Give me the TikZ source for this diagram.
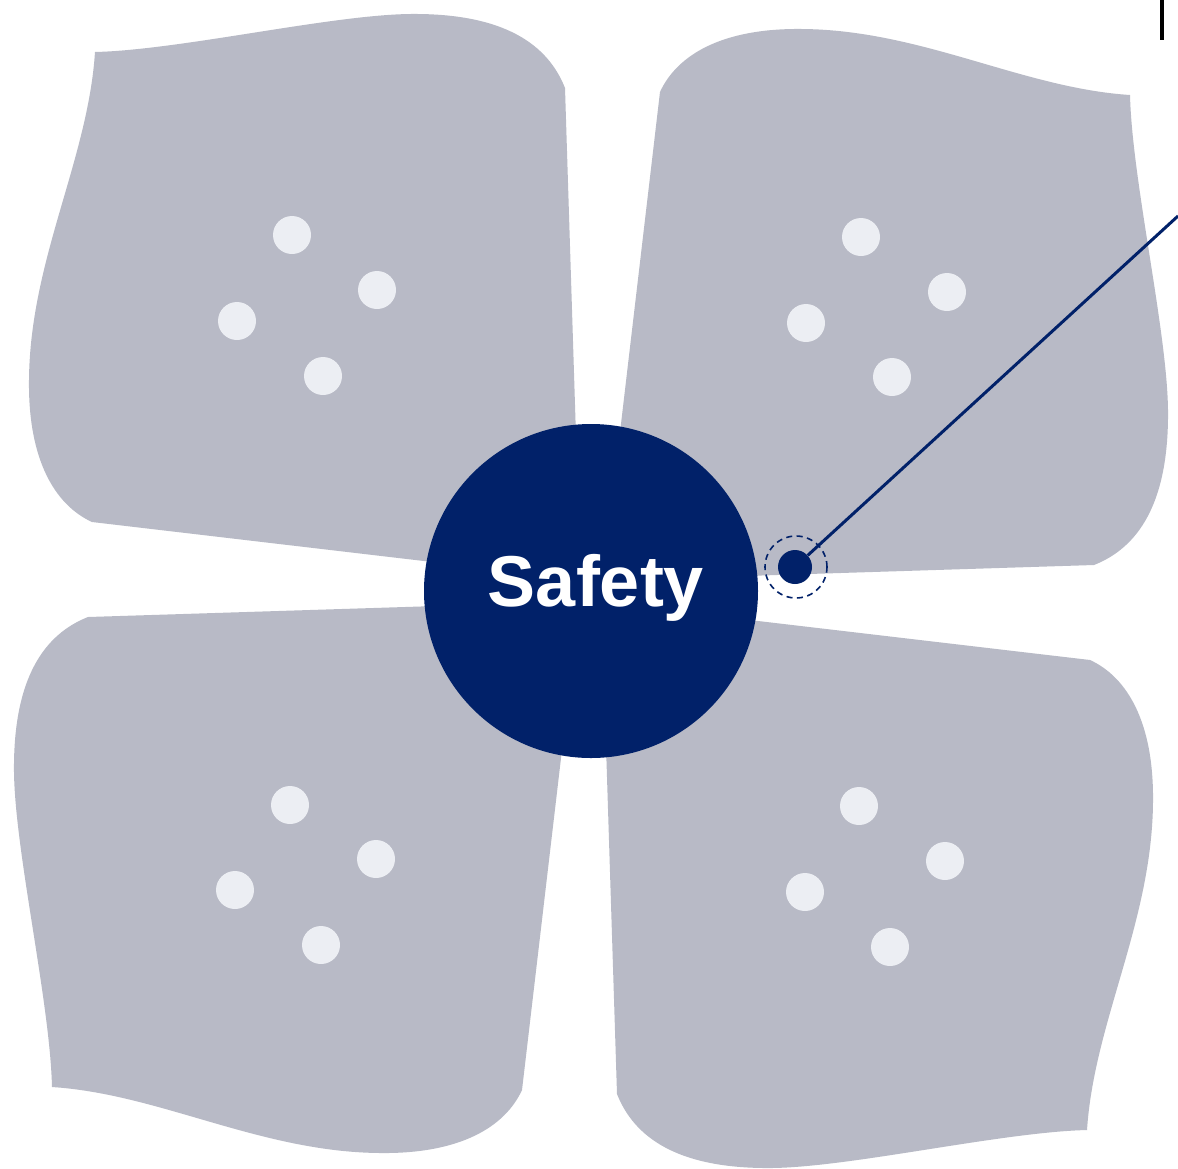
\documentclass[tikz,border=0pt]{standalone}
\usepackage{fontspec}
\setmainfont{Liberation Sans}
\definecolor{blobc}{HTML}{B8BAC6}
\definecolor{navy}{HTML}{012169}
\definecolor{pipc}{HTML}{ECEEF3}
\begin{document}
\begin{tikzpicture}[x=1pt,y=-1pt,
  petal/.style={fill=blobc,draw=none},
  pip/.style={circle,fill=pipc,minimum size=38pt,inner sep=0pt},
  hubc/.style={circle,fill=navy,minimum size=334pt,inner sep=0pt},
  marker/.style={circle,fill=navy,minimum size=34pt,inner sep=0pt},
  ring/.style={circle,draw=navy,dash pattern=on 6pt off 4.5pt,line width=1.6pt,minimum size=62pt,inner sep=0pt},
  leader/.style={draw=navy,line width=3pt}]
\useasboundingbox (0,0) rectangle (1178,1168);
\clip (0,0) rectangle (1178,1168);
\fill[white] (0,0) rectangle (1178,1168);
\foreach \ang/\nm in {0/tl,-90/tr,180/br,90/bl}{
  \begin{scope}[rotate around={\ang:(591,591)}]
    \path[petal] (95,52) .. controls (180,50) and (330,15) .. (410,14)
      .. controls (505,13) and (548,45) .. (565,88)
      -- (578,500) -- (560,577) -- (92,522)
      .. controls (55,505) and (28,460) .. (29,380)
      .. controls (30,260) and (88,160) .. (95,52) -- cycle;
    \node[pip] (pip-\nm-1) at (292,235) {};
    \node[pip] (pip-\nm-2) at (377,290) {};
    \node[pip] (pip-\nm-3) at (237,321) {};
    \node[pip] (pip-\nm-4) at (323,376) {};
  \end{scope}
}
\node[hubc] (hub) at (591,591) {};
\node[text=white,anchor=base,font=\fontsize{72}{80}\selectfont\bfseries] (label) at (596,606) {Safety};
\node[ring] (ring) at (796,567) {};
\node[marker] (mark) at (795,567) {};
\coordinate (lineend) at (1178,216);
\draw[leader] (mark) -- (lineend);
\coordinate (bartop) at (1162,0);
\coordinate (barbot) at (1162,40);
\draw[line width=3.5pt,black] (bartop) -- (barbot);
\end{tikzpicture}
\end{document}
